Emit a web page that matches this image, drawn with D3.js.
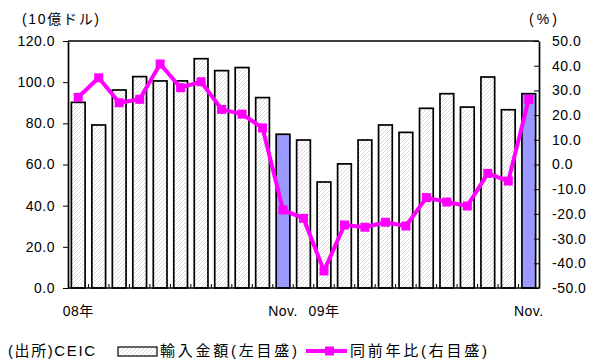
<!DOCTYPE html>
<html>
<head>
<meta charset="utf-8">
<script src="https://cdn.jsdelivr.net/npm/d3@7"></script>
<style>
  html, body { margin: 0; padding: 0; background: #fff; }
  svg { display: block; }
  text { font-family: "Liberation Sans", Arial, "Noto Sans CJK JP", sans-serif; fill: #000; }
  .jp { font-family: "Liberation Sans", "Noto Sans CJK JP", sans-serif; }
</style>
</head>
<body>
<svg id="chart" width="592" height="359"></svg>
<script>
// Monthly imports, Jan 2008 – Nov 2009
const months = [
  "2008-01","2008-02","2008-03","2008-04","2008-05","2008-06","2008-07","2008-08",
  "2008-09","2008-10","2008-11","2008-12","2009-01","2009-02","2009-03","2009-04",
  "2009-05","2009-06","2009-07","2009-08","2009-09","2009-10","2009-11"
];
const monthLabels = ["08年","","","","","","","","","","Nov.","","09年","","","","","","","","","","Nov."];
// Import value (billion USD, left axis)
const importValue = [90.2, 79.2, 96.2, 102.7, 100.6, 100.6, 111.4, 105.6, 107.1, 92.5, 74.7, 71.9,
                     51.5, 60.3, 71.9, 79.2, 75.6, 87.3, 94.4, 87.9, 102.5, 86.6, 94.4];
// Year-on-year change (%, right axis)
const yoyChange = [27.2, 35.1, 25.0, 26.4, 40.7, 31.1, 33.5, 22.3, 20.4, 14.8, -18.4, -21.8,
                   -43.1, -24.5, -25.4, -23.4, -24.9, -13.4, -15.2, -16.8, -3.6, -6.7, 26.4];
// Months drawn with the solid highlight fill
const highlightMonths = ["2008-11", "2009-11"];
const leftTicks = [0, 20, 40, 60, 80, 100, 120];
const rightTicks = [-50, -40, -30, -20, -10, 0, 10, 20, 30, 40, 50];

const svg = d3.select("#chart");
const plotLeft = 68, plotRight = 539, plotTop = 41, plotBottom = 288;

const defs = svg.append("defs");
const pat = defs.append("pattern")
  .attr("id", "hatch").attr("patternUnits", "userSpaceOnUse")
  .attr("width", 4).attr("height", 4);
pat.append("rect").attr("width", 4).attr("height", 4).attr("fill", "#fff");
pat.append("path")
  .attr("d", "M-1,1 l2,-2 M0,4 l4,-4 M3,5 l2,-2")
  .attr("stroke", "#d2d2d2").attr("stroke-width", 0.8);

const x = d3.scaleBand().domain(months).range([plotLeft, plotRight])
  .paddingInner(0.33).paddingOuter(0.165);
const yL = d3.scaleLinear().domain([0, 120]).range([plotBottom, plotTop]);
const yR = d3.scaleLinear().domain([-50, 50]).range([plotBottom, plotTop]);

// Bars
svg.append("g").selectAll("rect").data(months).join("rect")
  .attr("x", d => x(d))
  .attr("width", x.bandwidth())
  .attr("y", (d, i) => yL(importValue[i]))
  .attr("height", (d, i) => yL(0) - yL(importValue[i]))
  .attr("fill", d => highlightMonths.includes(d) ? "#9999ff" : "url(#hatch)")
  .attr("stroke", "#000").attr("stroke-width", 1.7);

// Frame: top border
svg.append("line").attr("x1", plotLeft).attr("x2", plotRight).attr("y1", plotTop).attr("y2", plotTop)
  .attr("stroke", "#000").attr("stroke-width", 1.5);

// Left axis
const axL = svg.append("g").attr("transform", `translate(${plotLeft},0)`)
  .call(d3.axisLeft(yL).tickValues(leftTicks).tickFormat(d => d.toFixed(1))
    .tickSize(5).tickPadding(8).tickSizeOuter(0));
// Right axis with inward ticks
const axR = svg.append("g").attr("transform", `translate(${plotRight},0)`)
  .call(d3.axisRight(yR).tickValues(rightTicks).tickFormat(d => d.toFixed(1))
    .tickSize(-5).tickPadding(13).tickSizeOuter(0));
[axL, axR].forEach(g => {
  g.select(".domain").attr("stroke", "#000").attr("stroke-width", 1.7);
  g.selectAll(".tick line").attr("stroke", "#000").attr("stroke-width", 1);
  g.selectAll(".tick text").attr("font-size", 14).attr("letter-spacing", 0.5)
    .attr("font-family", "Liberation Sans, Arial, sans-serif").attr("fill", "#000");
});
axR.selectAll(".tick text").attr("x", 13);

// Bottom axis with small inward ticks at month boundaries
const step = x.step();
const boundaries = months.slice(1).map(m => x(m) + x.bandwidth() / 2 - step / 2);
svg.append("g").selectAll("line").data(boundaries).join("line")
  .attr("x1", d => d).attr("x2", d => d).attr("y1", plotBottom).attr("y2", plotBottom - 4)
  .attr("stroke", "#000").attr("stroke-width", 1);
svg.append("line").attr("x1", plotLeft).attr("x2", plotRight).attr("y1", plotBottom).attr("y2", plotBottom)
  .attr("stroke", "#000").attr("stroke-width", 1.7);

svg.append("g").selectAll("text").data(months).join("text")
  .attr("class", "jp")
  .attr("x", d => x(d) + x.bandwidth() / 2)
  .attr("y", 316)
  .attr("text-anchor", "middle")
  .attr("font-size", 14).attr("letter-spacing", 0.5)
  .text((d, i) => monthLabels[i]);

// YoY line
const line = d3.line()
  .x((d, i) => x(months[i]) + x.bandwidth() / 2)
  .y(d => yR(d));
svg.append("path").datum(yoyChange)
  .attr("d", line).attr("fill", "none")
  .attr("stroke", "#ff00ff").attr("stroke-width", 4).attr("stroke-linejoin", "round");
svg.append("g").selectAll("rect").data(yoyChange).join("rect")
  .attr("x", (d, i) => x(months[i]) + x.bandwidth() / 2 - 4.5)
  .attr("y", d => yR(d) - 4.5)
  .attr("width", 9).attr("height", 9)
  .attr("fill", "#ff00ff");

// Unit labels
svg.append("text").attr("class", "jp").attr("x", 22).attr("y", 24)
  .attr("font-size", 14).attr("textLength", 77).attr("lengthAdjust", "spacing")
  .text("(10億ドル)");
svg.append("text").attr("x", 529).attr("y", 24)
  .attr("font-size", 14).attr("textLength", 28).attr("lengthAdjust", "spacing")
  .text("(%)");

// Source note and legend
svg.append("text").attr("class", "jp").attr("x", 8).attr("y", 356)
  .attr("font-size", 15).attr("textLength", 87).attr("lengthAdjust", "spacing")
  .text("(出所)CEIC");
svg.append("rect").attr("x", 118).attr("y", 347).attr("width", 39).attr("height", 9)
  .attr("fill", "url(#hatch)").attr("stroke", "#000").attr("stroke-width", 1.2);
svg.append("text").attr("class", "jp").attr("x", 160).attr("y", 356)
  .attr("font-size", 15).attr("textLength", 137).attr("lengthAdjust", "spacing")
  .text("輸入金額(左目盛)");
svg.append("line").attr("x1", 306).attr("x2", 347).attr("y1", 351).attr("y2", 351)
  .attr("stroke", "#ff00ff").attr("stroke-width", 4);
svg.append("rect").attr("x", 325).attr("y", 346.5).attr("width", 9).attr("height", 9)
  .attr("fill", "#ff00ff");
svg.append("text").attr("class", "jp").attr("x", 350).attr("y", 356)
  .attr("font-size", 15).attr("textLength", 137).attr("lengthAdjust", "spacing")
  .text("同前年比(右目盛)");
</script>
</body>
</html>
